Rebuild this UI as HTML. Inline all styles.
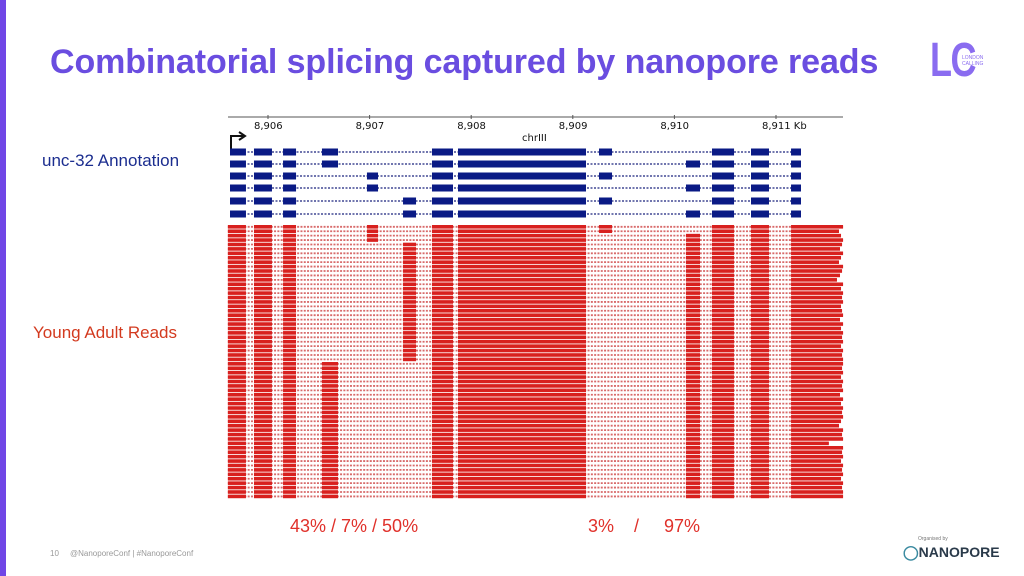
<!DOCTYPE html>
<html><head><meta charset="utf-8"><style>
body{margin:0;width:1024px;height:576px;overflow:hidden;background:#fff;font-family:"Liberation Sans",sans-serif;position:relative}
.abs{position:absolute;white-space:nowrap}
</style></head><body>
<div class="abs" style="left:0;top:0;width:6px;height:576px;background:#7046e6"></div>
<div class="abs" style="left:50px;top:43px;font-size:34px;font-weight:bold;color:#6a4de0;letter-spacing:-0.1px">Combinatorial splicing captured by nanopore reads</div>
<div class="abs" style="left:930px;top:33px;font-size:48px;font-weight:bold;color:#8a6cf0;letter-spacing:-2px;transform:scaleX(0.75);transform-origin:left">LC</div>
<div class="abs" style="left:962px;top:55px;font-size:5px;line-height:6px;color:#8a6cf0">LONDON<br>CALLING</div>
<div class="abs" style="left:42px;top:151px;font-size:17px;color:#1b2d8f">unc-32 Annotation</div>
<div class="abs" style="left:33px;top:323px;font-size:17px;color:#d33a1f">Young Adult Reads</div>
<div class="abs" style="left:290px;top:516px;font-size:18px;color:#e0302a">43% / 7% / 50%</div>
<div class="abs" style="left:588px;top:516px;font-size:18px;color:#e0302a;white-space:pre">3%    /     97%</div>
<div class="abs" style="left:50px;top:549px;font-size:8px;color:#999">10</div>
<div class="abs" style="left:70px;top:549px;font-size:8px;color:#999">@NanoporeConf | #NanoporeConf</div>
<div class="abs" style="left:918px;top:536px;font-size:5px;color:#777">Organised by</div>
<div class="abs" style="left:903px;top:544px;font-size:14px;font-weight:bold;color:#2a3a4a"><span style="color:#3a8aa0">◯</span>NANOPORE</div>
<svg class="abs" id="chart" style="left:0;top:0" width="1024" height="576"></svg>
<script>
const tickLabels=["8,906","8,907","8,908","8,909","8,910","8,911 Kb"];
const tickValues=[8906,8907,8908,8909,8910,8911];
const exonStarts=[8905.626,8905.862,8906.148,8906.531,8906.974,8907.329,8907.614,8907.870,8909.258,8910.114,8910.370,8910.754,8911.148];
const exonEnds=[8905.783,8906.039,8906.276,8906.689,8907.083,8907.457,8907.821,8909.130,8909.386,8910.252,8910.587,8910.931,8911.246];
const transcripts=[[0,1,2,3,6,7,8,10,11,12],[0,1,2,3,6,7,9,10,11,12],[0,1,2,4,6,7,8,10,11,12],[0,1,2,4,6,7,9,10,11,12],[0,1,2,5,6,7,8,10,11,12],[0,1,2,5,6,7,9,10,11,12]];
const readAltExonA=[4,4,4,4,5,5,5,5,5,5,5,5,5,5,5,5,5,5,5,5,5,5,5,5,5,5,5,5,5,5,5,3,3,3,3,3,3,3,3,3,3,3,3,3,3,3,3,3,3,3,3,3,3,3,3,3,3,3,3,3,3,3];
const readAltExonB=[8,8,9,9,9,9,9,9,9,9,9,9,9,9,9,9,9,9,9,9,9,9,9,9,9,9,9,9,9,9,9,9,9,9,9,9,9,9,9,9,9,9,9,9,9,9,9,9,9,9,9,9,9,9,9,9,9,9,9,9,9,9];
const readEnds=[8911.66,8911.62,8911.64,8911.66,8911.65,8911.63,8911.66,8911.64,8911.62,8911.66,8911.65,8911.63,8911.60,8911.66,8911.64,8911.66,8911.65,8911.66,8911.64,8911.65,8911.66,8911.63,8911.66,8911.64,8911.66,8911.65,8911.66,8911.64,8911.66,8911.65,8911.66,8911.66,8911.65,8911.66,8911.64,8911.66,8911.65,8911.66,8911.63,8911.66,8911.64,8911.66,8911.65,8911.66,8911.64,8911.62,8911.66,8911.65,8911.66,8911.52,8911.66,8911.65,8911.66,8911.64,8911.66,8911.65,8911.66,8911.64,8911.66,8911.65,8911.66,8911.66];
const readStart=8905.605;
const svg=document.getElementById('chart');
const NS='http://www.w3.org/2000/svg';
const x=v=>268+(v-8906)*101.6;
function mk(t,a){const e=document.createElementNS(NS,t);for(const k in a)e.setAttribute(k,a[k]);svg.appendChild(e);return e;}
let e=mk('line',{x1:228,x2:843,y1:117,y2:117,stroke:'#555','stroke-width':1});

tickValues.forEach((v,i)=>{
 let t=mk('line',{x1:x(v),x2:x(v),y1:115,y2:119,stroke:'#555'});
 
 let l=mk('text',{x:x(v)-14,y:129,'font-size':10,fill:'#111','font-family':'DejaVu Sans, sans-serif'});
 l.textContent=tickLabels[i];
 
});
e=mk('text',{x:522,y:141,'font-size':10,fill:'#111','font-family':'DejaVu Sans, sans-serif'});e.textContent='chrIII';

e=mk('path',{d:'M231 150 V136 H243 M239 132 L245 136 L239 140',stroke:'#111','stroke-width':2,fill:'none'});

const rowY=[152,164,176,188,201,214];
transcripts.forEach((tr,r)=>{
 const y=rowY[r];
 let ln=mk('line',{x1:x(exonStarts[0]),x2:x(exonEnds[12]),y1:y,y2:y,stroke:'#1a237e','stroke-width':1.3,'stroke-dasharray':'2 1.5'});
 
 tr.forEach(k=>{
  let b=mk('rect',{x:x(exonStarts[k]),y:y-3.5,width:x(exonEnds[k])-x(exonStarts[k]),height:7,fill:'#0a1a85'});
  
 });
});
const readTop=225,pitch=4.42;
readEnds.forEach((end,r)=>{
 const y=readTop+r*pitch;
 const ex=[0,1,2,readAltExonA[r],6,7,readAltExonB[r],10,11,12];
 let ln=mk('line',{x1:x(readStart),x2:x(end),y1:y+1.8,y2:y+1.8,stroke:'#d86a6a','stroke-width':1.8,'stroke-dasharray':'2 1.3'});
 
 ex.forEach((k,i)=>{
  const s=i===0?readStart:exonStarts[k];
  const en=i===ex.length-1?end:exonEnds[k];
  let b=mk('rect',{x:x(s),y:y,width:x(en)-x(s),height:3.6,fill:'#d8201e'});
  
 });
});
</script>
</body></html>
